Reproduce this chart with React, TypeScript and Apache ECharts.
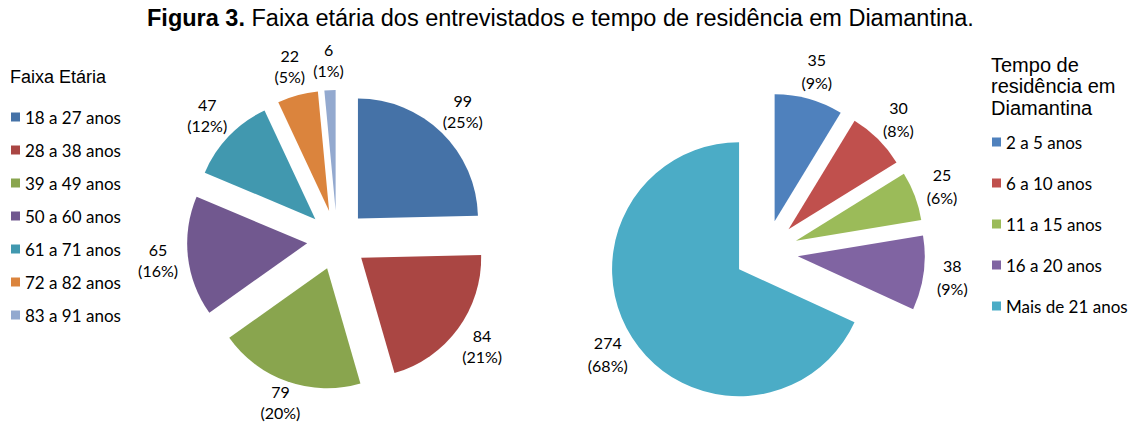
import React, { useEffect, useRef } from "react";
import * as echarts from "echarts";

const titleBold = "Figura 3.";
const titleRest = " Faixa etária dos entrevistados e tempo de residência em Diamantina.";

const ageLegendTitle = "Faixa Etária";
const ageCategories = [
  "18 a 27 anos",
  "28 a 38 anos",
  "39 a 49 anos",
  "50 a 60 anos",
  "61 a 71 anos",
  "72 a 82 anos",
  "83 a 91 anos",
];
const ageValues = [99, 84, 79, 65, 47, 22, 6];
const ageColors = ["#4572A7", "#AA4643", "#89A54E", "#71588F", "#4198AF", "#DB843D", "#93A9CF"];

const resLegendTitle = "Tempo de\nresidência em\nDiamantina";
const resCategories = ["2 a 5 anos", "6 a 10 anos", "11 a 15 anos", "16 a 20 anos", "Mais de 21 anos"];
const resValues = [35, 30, 25, 38, 274];
const resColors = ["#4F81BD", "#C0504D", "#9BBB59", "#8064A2", "#4BACC6"];

const labelFont = "Lato, 'Open Sans', sans-serif";
const arialFont = "'Liberation Sans', Arial, sans-serif";
const CHART_H = 423;

// Whole-number percentages that add up to 100 (largest remainder)
function roundedPercents(values: number[]): number[] {
  const total = values.reduce((a, b) => a + b, 0);
  const raw = values.map((v) => (v / total) * 100);
  const out = raw.map((r) => Math.floor(r));
  let left = 100 - out.reduce((a, b) => a + b, 0);
  const order = raw
    .map((r, i) => ({ i, rem: r - Math.floor(r) }))
    .sort((a, b) => b.rem - a.rem);
  for (let k = 0; k < order.length && left > 0; k++, left--) out[order[k].i] += 1;
  return out;
}

// label distance per slice, shortened when the two-line label would leave the chart
function labelLengths(
  values: number[],
  cy: number,
  radius: number,
  offset: number,
  len: number,
  lineHeight: number
): number[] {
  const total = values.reduce((a, b) => a + b, 0);
  let acc = 0;
  return values.map((v) => {
    const mid = ((acc + v / 2) / total) * Math.PI * 2;
    acc += v;
    const down = -Math.cos(mid);
    const base = cy + offset * down;
    if (down > 0) {
      const maxR = (CHART_H - lineHeight - base) / down;
      return Math.max(0, Math.min(len, maxR - radius));
    }
    if (down < 0) {
      const maxR = (base - lineHeight) / -down;
      return Math.max(0, Math.min(len, maxR - radius));
    }
    return len;
  });
}

const centerLabel = () => ({ align: "center", verticalAlign: "middle" });

function makePie(
  names: string[],
  values: number[],
  colors: string[],
  center: [number, number],
  radius: number,
  offset: number,
  labelLen: number,
  lineHeight: number
) {
  const pct = roundedPercents(values);
  const lens = labelLengths(values, center[1], radius, offset, labelLen, lineHeight);
  return {
    type: "pie",
    center,
    radius,
    startAngle: 90,
    clockwise: true,
    selectedMode: "multiple",
    selectedOffset: offset,
    avoidLabelOverlap: false,
    emphasis: { scale: false },
    label: {
      show: true,
      position: "outside",
      color: "#000",
      fontFamily: labelFont,
      fontSize: 16,
      lineHeight,
      distanceToLabelLine: 0,
      formatter: (p: any) => `${p.value}\n(${pct[p.dataIndex]}%)`,
    },
    labelLine: { show: false, length: labelLen, length2: 0 },
    labelLayout: centerLabel,
    data: names.map((n, i) => ({
      name: n,
      value: values[i],
      selected: true,
      itemStyle: { color: colors[i] },
      labelLine: { show: false, length: lens[i], length2: 0 },
    })),
  };
}

export default function App() {
  const ref = useRef<HTMLDivElement>(null);
  useEffect(() => {
    if (!ref.current) return;
    const chart = echarts.init(ref.current, null, { renderer: "svg" });
    chart.setOption({
      animation: false,
      backgroundColor: "#fff",
      title: [
        {
          text: `{b|${titleBold}}${titleRest}`,
          left: 147,
          top: 6,
          padding: 0,
          textStyle: {
            fontFamily: arialFont,
            fontSize: 23.5,
            fontWeight: "normal",
            color: "#000",
            rich: {
              b: { fontFamily: arialFont, fontSize: 23.5, fontWeight: "bold", color: "#000" },
            },
          },
        },
        {
          text: ageLegendTitle,
          left: 10,
          top: 68,
          padding: 0,
          textStyle: { fontFamily: arialFont, fontSize: 18, fontWeight: "normal", color: "#000" },
        },
        {
          text: resLegendTitle,
          left: 991,
          top: 54,
          padding: 0,
          textStyle: {
            fontFamily: arialFont,
            fontSize: 20,
            lineHeight: 21.5,
            fontWeight: "normal",
            color: "#000",
          },
        },
      ],
      legend: [
        {
          data: ageCategories,
          orient: "vertical",
          left: 11,
          top: 107,
          padding: 0,
          itemWidth: 9,
          itemHeight: 9,
          itemGap: 13,
          icon: "rect",
          selectedMode: false,
          textStyle: { fontFamily: labelFont, fontSize: 17, lineHeight: 20, color: "#000" },
        },
        {
          data: resCategories,
          orient: "vertical",
          left: 992,
          top: 132,
          padding: 0,
          itemWidth: 9,
          itemHeight: 9,
          itemGap: 21,
          icon: "rect",
          selectedMode: false,
          textStyle: { fontFamily: labelFont, fontSize: 17, lineHeight: 20, color: "#000" },
        },
      ],
      series: [
        makePie(ageCategories, ageValues, ageColors, [337, 240], 120, 30, 30, 21),
        makePie(resCategories, resValues, resColors, [766, 252], 127, 32, 29, 23),
      ],
    });
    return () => chart.dispose();
  }, []);
  return (
    <div
      ref={ref}
      style={{ position: "fixed", left: 0, top: 0, width: 1133, height: CHART_H, background: "#fff" }}
    />
  );
}
